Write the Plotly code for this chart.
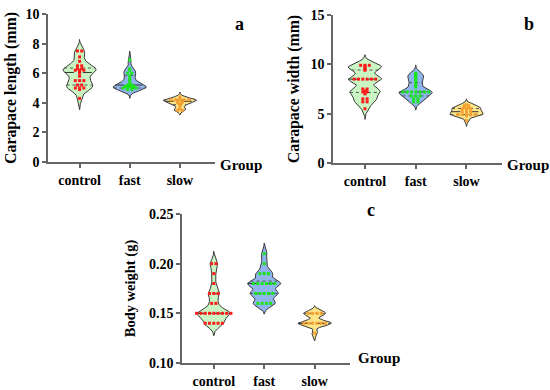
import numpy as np
import plotly.graph_objects as go

# ---------------- data ----------------
groups = ["control", "fast", "slow"]

length_control = [7.5, 7.5, 7.1, 6.8, 6.5, 6.5, 6.3, 6.3, 6.2, 6.2, 6.2, 6.1, 6.0,
                  5.8, 5.5, 5.5, 5.5, 5.2, 5.2, 5.0, 5.0, 5.0, 4.9, 4.3]
length_fast = [6.9, 6.3, 6.2, 6.0, 6.0, 5.8, 5.6, 5.5, 5.3, 5.2, 5.2, 5.1, 5.1,
               5.1, 5.0, 5.0, 5.0, 5.0, 4.9, 4.9]
length_slow = [4.4, 4.3, 4.2, 4.2, 4.2, 4.2, 4.2, 4.1, 4.1, 4.0, 4.0, 3.9, 3.8,
               3.6, 3.5, 3.5]

width_control = [9.9, 9.9, 9.9, 9.8, 9.6, 9.5, 9.4, 8.5, 8.5, 8.5, 8.5, 8.5, 8.5,
                 7.5, 7.5, 7.3, 7.2, 7.2, 7.0, 6.5, 6.5, 6.2, 6.2, 5.5]
width_fast = [9.1, 9.0, 8.8, 8.7, 8.5, 8.3, 8.0, 7.9, 7.7, 7.2, 7.2, 7.2, 7.2, 7.2,
              7.2, 7.2, 6.8, 6.8, 6.8, 6.5, 6.5, 6.2, 6.2]
width_slow = [5.9, 5.8, 5.8, 5.6, 5.6, 5.5, 5.5, 5.5, 5.3, 5.2, 5.2, 5.2, 5.0,
              4.9, 4.9, 4.9, 4.9, 4.9, 4.8, 4.3]

weight_control = [0.20, 0.20, 0.19, 0.18, 0.17, 0.17, 0.17, 0.16, 0.16,
                  0.15, 0.15, 0.15, 0.15, 0.15, 0.15, 0.15, 0.15, 0.15,
                  0.14, 0.14, 0.14, 0.14, 0.14]
weight_fast = [0.21, 0.20, 0.19, 0.19, 0.19, 0.18, 0.18, 0.18, 0.18, 0.18, 0.18,
               0.17, 0.17, 0.17, 0.17, 0.17, 0.16, 0.16, 0.16, 0.16]
weight_slow = [0.15, 0.15, 0.15, 0.15, 0.14, 0.14, 0.14, 0.14, 0.14, 0.14, 0.13]

panel_letters = ["a", "b", "c"]
y_titles = ["Carapace length (mm)", "Carapace width (mm)", "Body weight (g)"]
x_title = "Group"

# ---------------- styling ----------------
FONT = "Liberation Serif"
fills = ["#c9f5c3", "#8fb5ec", "#fde58a"]
dot_colors = ["#ff1a1a", "#19e619", "#f5a030"]
outline = "#3a3a3a"
W, H = 550, 390

panels = [
    dict(data=[length_control, length_fast, length_slow], bw=[0.26, 0.2, 0.11],
         xdom=[48, 215], ydom=[162, 14], yr=[0, 10], dtick=2, fmt="d",
         step=0.085, tsize=15.8, standoff=5),
    dict(data=[width_control, width_fast, width_slow], bw=[0.36, 0.28, 0.2],
         xdom=[333, 502], ydom=[163, 15], yr=[0, 15], dtick=5, fmt="d",
         step=0.085, tsize=15.8, standoff=7),
    dict(data=[weight_control, weight_fast, weight_slow], bw=[0.0042, 0.0036, 0.0026],
         xdom=[182, 350], ydom=[363, 214], yr=[0.10, 0.25], dtick=0.05, fmt=".2f",
         step=0.085, tsize=14.5, standoff=10),
]
# (left edge x, center y) in pixels for annotations
letter_pos = [(234, 13), (523, 13), (366, 210)]
group_pos = [(219, 165), (506, 165), (357, 367)]

fig = go.Figure()
max_hw = 0.33

for p_i, p in enumerate(panels):
    xa = "x" if p_i == 0 else f"x{p_i+1}"
    ya = "y" if p_i == 0 else f"y{p_i+1}"
    for g_i, vals in enumerate(p["data"]):
        v = np.array(vals, dtype=float)
        bw = p["bw"][g_i]
        grid = np.linspace(v.min() - 3 * bw, v.max() + 3 * bw, 400)
        dens = np.exp(-0.5 * ((grid[:, None] - v[None, :]) / bw) ** 2).sum(axis=1)
        hw = max_hw * dens / dens.max()
        xs = np.concatenate([g_i + hw, (g_i - hw)[::-1]])
        ys = np.concatenate([grid, grid[::-1]])
        fig.add_trace(go.Scatter(x=xs, y=ys, fill="toself", fillcolor=fills[g_i],
                                 line=dict(color=outline, width=1), mode="lines",
                                 hoverinfo="skip", showlegend=False,
                                 xaxis=xa, yaxis=ya))
        # quartile lines
        for q, dash, col in [(25, "dot", "#555555"), (50, "dash", "#333333"),
                             (75, "dot", "#555555")]:
            yq = float(np.percentile(v, q))
            h = float(np.interp(yq, grid, hw))
            fig.add_trace(go.Scatter(x=[g_i - h, g_i + h], y=[yq, yq], mode="lines",
                                     line=dict(color=col, width=1, dash=dash),
                                     hoverinfo="skip", showlegend=False,
                                     xaxis=xa, yaxis=ya))
        # points arranged in rows
        px, py = [], []
        uniq, counts = np.unique(np.round(v, 6), return_counts=True)
        for u, c in zip(uniq, counts):
            for k in range(c):
                px.append(g_i + (k - (c - 1) / 2) * p["step"])
                py.append(u)
        fig.add_trace(go.Scatter(x=px, y=py, mode="markers",
                                 marker=dict(color=dot_colors[g_i], size=3,
                                             symbol="square"),
                                 showlegend=False, xaxis=xa, yaxis=ya))

    x0, x1 = p["xdom"]
    y0, y1 = p["ydom"]
    axis_common = dict(showgrid=False, zeroline=False, showline=True,
                       linecolor="#666666", linewidth=1.5, ticks="outside",
                       tickcolor="#666666", tickwidth=1.5, automargin=False,
                       tickfont=dict(family=FONT, size=14, color="black", weight="bold"))
    xkey = "xaxis" if p_i == 0 else f"xaxis{p_i+1}"
    ykey = "yaxis" if p_i == 0 else f"yaxis{p_i+1}"
    fig.update_layout({
        xkey: dict(domain=[x0 / W, x1 / W], range=[-0.63, 2.7],
                   tickvals=[0, 1, 2], ticktext=groups, ticklen=4,
                   anchor=ya, fixedrange=True, **axis_common),
        ykey: dict(domain=[1 - y0 / H, 1 - y1 / H], range=p["yr"],
                   dtick=p["dtick"], tick0=p["yr"][0], tickformat=p["fmt"],
                   ticklen=4, anchor=xa, fixedrange=True,
                   title=dict(text=y_titles[p_i], standoff=p["standoff"],
                              font=dict(family=FONT, size=p["tsize"], color="black",
                                        weight="bold")),
                   **axis_common),
    })
    fig.add_annotation(x=letter_pos[p_i][0] / W, y=1 - letter_pos[p_i][1] / H,
                       xref="paper", yref="paper", text=panel_letters[p_i],
                       showarrow=False, xanchor="left", borderpad=0,
                       font=dict(family=FONT, size=18, color="black", weight="bold"))
    fig.add_annotation(x=group_pos[p_i][0] / W, y=1 - group_pos[p_i][1] / H,
                       xref="paper", yref="paper", text=x_title, showarrow=False,
                       xanchor="left", borderpad=0,
                       font=dict(family=FONT, size=15, color="black", weight="bold"))

fig.update_layout(width=W, height=H, margin=dict(l=0, r=0, t=0, b=0),
                  paper_bgcolor="white", plot_bgcolor="white", showlegend=False)

fig.write_html("out.html", config={"displayModeBar": False},
               post_script="document.body.style.margin='0';document.body.style.padding='0';")
